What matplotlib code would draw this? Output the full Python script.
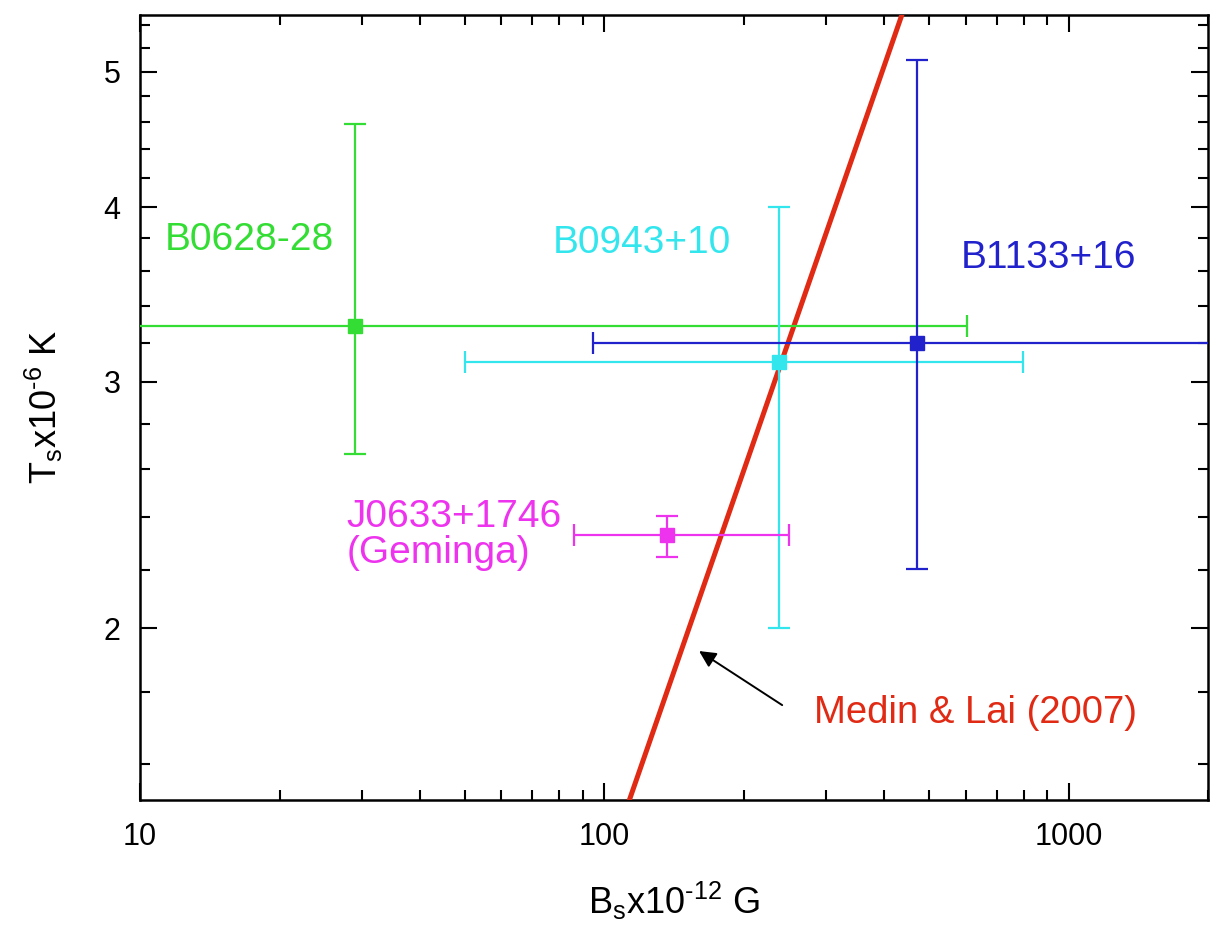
import matplotlib
matplotlib.use("Agg")
import matplotlib.pyplot as plt
from matplotlib.ticker import FixedLocator, NullFormatter, LogLocator, FixedFormatter

plt.rcParams['font.family'] = ['Liberation Sans', 'DejaVu Sans']
plt.rcParams['mathtext.fontset'] = 'custom'
plt.rcParams['mathtext.rm'] = 'Liberation Sans'

# Pulsar data (B in 1e12 G, T in 1e6 K)
names = ["B0628-28", "B0943+10", "B1133+16", "J0633+1746\n(Geminga)"]
colors = ["#33dd33", "#33e6ee", "#2222cc", "#ee33ee"]
B = [29.0, 238.0, 471.0, 136.5]
B_lo = [5.0, 50.0, 94.6, 86.0]
B_hi = [604.0, 796.0, 3000.0, 250.0]
T = [3.29, 3.10, 3.20, 2.33]
T_lo = [2.665, 2.00, 2.204, 2.248]
T_hi = [4.59, 4.00, 5.10, 2.406]

# label positions (data coordinates)
label_x = [11.3, 77.3, 586.0, 27.9]
label_y = [3.79, 3.77, 3.68, 2.33]

# Medin & Lai (2007) line
ml_B = [100.0, 500.0]
ml_T = [1.338, 6.24]
ml_label = "Medin & Lai (2007)"
ml_label_pos = (283.0, 1.739)
arrow_head = (160.0, 1.926)
arrow_tail = (241.6, 1.762)

fig = plt.figure(figsize=(12.13, 9.33), dpi=100)
ax = fig.add_axes([0.1154, 0.1425, 0.8808, 0.8415])

ax.set_xscale('log')
ax.set_yscale('log')

ax.plot(ml_B, ml_T, color="#e02a14", lw=3.6, zorder=3)

for i in range(len(B)):
    xerr = [[B[i] - B_lo[i]], [B_hi[i] - B[i]]]
    yerr = [[T[i] - T_lo[i]], [T_hi[i] - T[i]]]
    ax.errorbar([B[i]], [T[i]], xerr=xerr, yerr=yerr, fmt='s', color=colors[i],
                ms=10, elinewidth=1.6, capsize=8, capthick=1.6, zorder=4)
    ax.text(label_x[i], label_y[i], names[i], color=colors[i], fontsize=28,
            ha='left', va='center', linespacing=1.0)

ax.text(ml_label_pos[0], ml_label_pos[1], ml_label, color="#e02a14",
        fontsize=27.5, ha='left', va='center')
ax.annotate("", xy=arrow_head, xytext=arrow_tail,
            arrowprops=dict(arrowstyle='-|>', color='black', lw=1.4,
                            mutation_scale=25, shrinkA=0, shrinkB=0))

ax.set_xlim(10, 2000)
ax.set_ylim(1.507, 5.49)

xmaj = [10, 100, 1000]
ax.xaxis.set_major_locator(FixedLocator(xmaj))
ax.xaxis.set_major_formatter(FixedFormatter([str(v) for v in xmaj]))
ax.xaxis.set_minor_locator(LogLocator(base=10, subs=range(2, 10)))
ax.xaxis.set_minor_formatter(NullFormatter())

ymaj = [2, 3, 4, 5]
ymin = [1.6, 1.8, 2.2, 2.4, 2.6, 2.8, 3.2, 3.4, 3.6, 3.8, 4.2, 4.4, 4.6, 4.8, 5.2, 5.4]
ax.yaxis.set_major_locator(FixedLocator(ymaj))
ax.yaxis.set_major_formatter(FixedFormatter([str(v) for v in ymaj]))
ax.yaxis.set_minor_locator(FixedLocator(ymin))
ax.yaxis.set_minor_formatter(NullFormatter())

ax.tick_params(which='both', direction='in', top=True, right=True, width=1.5)
ax.tick_params(which='major', length=12, labelsize=22)
ax.tick_params(axis='x', which='major', pad=16)
ax.tick_params(axis='y', which='major', pad=14)
ax.tick_params(which='minor', length=7)
for s in ax.spines.values():
    s.set_linewidth(1.8)

ax.set_xlabel('B$_{\\mathregular{s}}$x10$^\\mathregular{\u201012}$ G', fontsize=26, labelpad=20)
ax.set_ylabel('T$_{\\mathregular{s}}$x10$^\\mathregular{\u20106}$ K', fontsize=26, labelpad=28)

fig.savefig("out.png", dpi=100)
